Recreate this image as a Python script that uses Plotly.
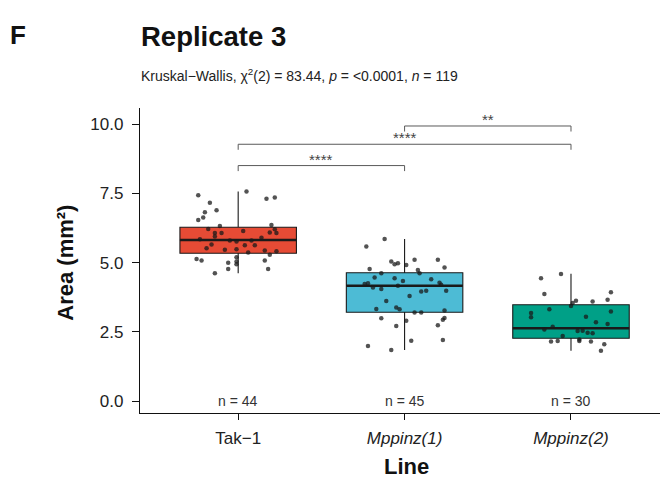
import plotly.graph_objects as go

# ---------------- data ----------------
categories = ["Tak−1", "<i>Mppinz(1)</i>", "<i>Mppinz(2)</i>"]
fill_colors = ["#E64B35", "#4DBBD5", "#00A087"]
n_labels = ["n = 44", "n = 45", "n = 30"]

q1_vals = [5.34, 3.21, 2.27]
median_vals = [5.82, 4.17, 2.63]
q3_vals = [6.28, 4.64, 3.48]
lower_whisker = [4.62, 1.85, 1.82]
upper_whisker = [7.57, 5.86, 4.60]

tak1_y = [7.44, 7.57, 7.31, 7.36, 7.17, 6.90, 6.82, 6.63, 6.54, 6.33, 6.36, 6.22, 6.21, 6.07,
          6.07, 6.09, 6.07, 5.85, 5.77, 5.80, 5.80, 5.63, 5.63, 5.47, 5.49, 5.44, 5.41, 5.29,
          5.37, 5.95, 5.13, 5.08, 5.00, 5.04, 5.08, 4.94, 4.77, 4.77, 4.62, 5.20, 5.90, 5.66,
          6.15, 5.52]
tak1_jitter = [-0.24, 0.05, 0.17, 0.22, -0.17, -0.13, -0.20, -0.21, -0.24, -0.11, 0.20, -0.18, 0.22, -0.14,
               -0.10, 0.19, 0.23, -0.23, -0.01, -0.05, 0.08, 0.04, 0.10, -0.08, -0.01, 0.16, 0.23, 0.19,
               0.06, -0.14, -0.25, -0.22, -0.06, -0.01, 0.16, -0.01, -0.06, 0.18, -0.14, -0.01, 0.14, -0.16,
               0.03, -0.19]

mp1_y = [5.86, 5.59, 5.04, 4.94, 4.98, 4.92, 5.11, 5.11, 4.83, 4.77, 4.74, 4.62, 4.62, 4.47, 4.44,
         4.34, 4.23, 4.26, 4.40, 4.28, 4.20, 4.05, 4.17, 3.96, 3.99, 3.99, 3.62, 3.33, 3.38, 3.32,
         3.20, 3.20, 3.27, 2.99, 2.90, 2.71, 2.74, 2.94, 3.00, 2.18, 2.21, 1.99, 1.85, 3.80, 4.10]
mp1_jitter = [-0.12, -0.23, -0.08, -0.06, -0.04, 0.01, 0.06, 0.20, 0.24, -0.21, 0.08, 0.09, -0.14, -0.18, -0.06,
              -0.01, -0.24, -0.22, 0.16, 0.21, 0.22, -0.14, -0.04, 0.10, 0.13, 0.25, -0.11, -0.17, -0.05, -0.03,
              0.06, 0.10, 0.24, -0.14, 0.01, -0.05, 0.20, 0.23, 0.24, 0.04, 0.23, -0.22, -0.08, 0.03, -0.19]

mp2_y = [4.44, 4.59, 3.87, 3.93, 3.63, 3.54, 3.60, 3.66, 3.32, 3.24, 3.44, 3.18, 3.03, 2.79, 2.59,
         2.69, 2.53, 2.54, 2.47, 2.45, 2.15, 2.17, 2.17, 2.23, 2.15, 2.05, 1.82, 2.85, 2.35, 3.05]
mp2_jitter = [-0.18, -0.06, -0.16, 0.24, 0.03, 0.01, 0.13, 0.22, -0.13, 0.24, 0.00, -0.24, -0.24, 0.22, -0.16,
              -0.11, 0.04, 0.07, 0.10, 0.13, -0.12, -0.08, 0.05, 0.05, 0.12, 0.20, 0.18, 0.15, -0.05, 0.09]

points_y = [tak1_y, mp1_y, mp2_y]
points_jitter = [tak1_jitter, mp1_jitter, mp2_jitter]

# comparisons: (group a, group b, bracket height, label)
comp_a = [1, 1, 2]
comp_b = [2, 3, 3]
comp_y = [8.51, 9.28, 9.94]
comp_label = ["****", "****", "**"]

y_ticks = [0, 2.5, 5, 7.5, 10]
y_tick_text = ["0.0", "2.5", "5.0", "7.5", "10.0"]

# ---------------- figure ----------------
FONT = "Liberation Sans, Arial, sans-serif"
BOX_W = 0.7
fig = go.Figure()

for i in range(3):
    pos = i + 1
    fig.add_trace(go.Box(
        x=[pos], q1=[q1_vals[i]], median=[median_vals[i]], q3=[q3_vals[i]],
        lowerfence=[lower_whisker[i]], upperfence=[upper_whisker[i]],
        width=BOX_W, fillcolor=fill_colors[i], line=dict(color="#1a1a1a", width=1.1),
        whiskerwidth=0, boxpoints=False, showlegend=False, hoverinfo="skip"))
    # thicker median line
    fig.add_trace(go.Scatter(
        x=[pos - BOX_W / 2, pos + BOX_W / 2], y=[median_vals[i], median_vals[i]],
        mode="lines", line=dict(color="#1a1a1a", width=2.4), showlegend=False, hoverinfo="skip"))

for i in range(3):
    pos = i + 1
    fig.add_trace(go.Scatter(
        x=[pos + j for j in points_jitter[i]], y=points_y[i], mode="markers",
        marker=dict(color="rgba(25,25,25,0.75)", size=4.5, line=dict(width=0)),
        showlegend=False, hoverinfo="skip"))

annotations = []
TICK = 0.2
for a, b, yv, lab in zip(comp_a, comp_b, comp_y, comp_label):
    fig.add_trace(go.Scatter(
        x=[a, a, b, b], y=[yv - TICK, yv, yv, yv - TICK], mode="lines",
        line=dict(color="#5a5a5a", width=1), showlegend=False, hoverinfo="skip"))
    annotations.append(dict(x=(a + b) / 2, y=yv, xref="x", yref="y", text=lab, showarrow=False,
                            yanchor="bottom", yshift=-4, font=dict(family=FONT, size=15, color="#444")))

for i in range(3):
    annotations.append(dict(x=i + 1, y=0, xref="x", yref="y", text=n_labels[i], showarrow=False,
                            font=dict(family=FONT, size=14, color="#333")))

# titles
annotations += [
    dict(x=-0.250, y=1.238, xref="paper", yref="paper", text="<b>F</b>", showarrow=False,
         xanchor="left", yanchor="middle", font=dict(family=FONT, size=26, color="#111")),
    dict(x=-0.002, y=1.236, xref="paper", yref="paper", text="<b>Replicate 3</b>", showarrow=False,
         xanchor="left", yanchor="middle", font=dict(family=FONT, size=27.5, color="#111")),
    dict(x=-0.002, y=1.108, xref="paper", yref="paper",
         text="Kruskal−Wallis, χ<sup>2</sup>(2) = 83.44, <i>p</i> = &lt;0.0001, <i>n</i> = 119",
         showarrow=False, xanchor="left", yanchor="middle",
         font=dict(family=FONT, size=14, color="#222")),
    dict(x=-0.140, y=0.493, xref="paper", yref="paper", text="<b>Area (mm²)</b>", showarrow=False,
         textangle=-90, xanchor="center", yanchor="middle", font=dict(family=FONT, size=22, color="#111")),
    dict(x=0.504, y=-0.174, xref="paper", yref="paper", text="<b>Line</b>", showarrow=False,
         xanchor="center", yanchor="middle", font=dict(family=FONT, size=22, color="#111")),
]

# the page body adds an 8px offset, so the figure is sized to the remaining window
fig.update_layout(
    width=660, height=473,
    margin=dict(l=132, r=0, t=100, b=68),
    paper_bgcolor="white", plot_bgcolor="white",
    annotations=annotations,
    showlegend=False,
)
fig.update_xaxes(
    range=[0.41, 3.583], tickvals=[1, 2, 3], ticktext=categories,
    showline=True, linecolor="#111", linewidth=1.3, ticks="outside", ticklen=6,
    tickcolor="#111", tickwidth=1.3, showgrid=False, zeroline=False, ticklabelstandoff=3,
    tickfont=dict(family=FONT, size=17, color="#222"),
)
fig.update_yaxes(
    range=[-0.43, 10.59], tickvals=y_ticks, ticktext=y_tick_text,
    showline=True, linecolor="#111", linewidth=1.3, ticks="outside", ticklen=7,
    tickcolor="#111", tickwidth=1.3, showgrid=False, zeroline=False, ticklabelstandoff=5,
    tickfont=dict(family=FONT, size=17, color="#222"),
)

fig.write_html("out.html")
